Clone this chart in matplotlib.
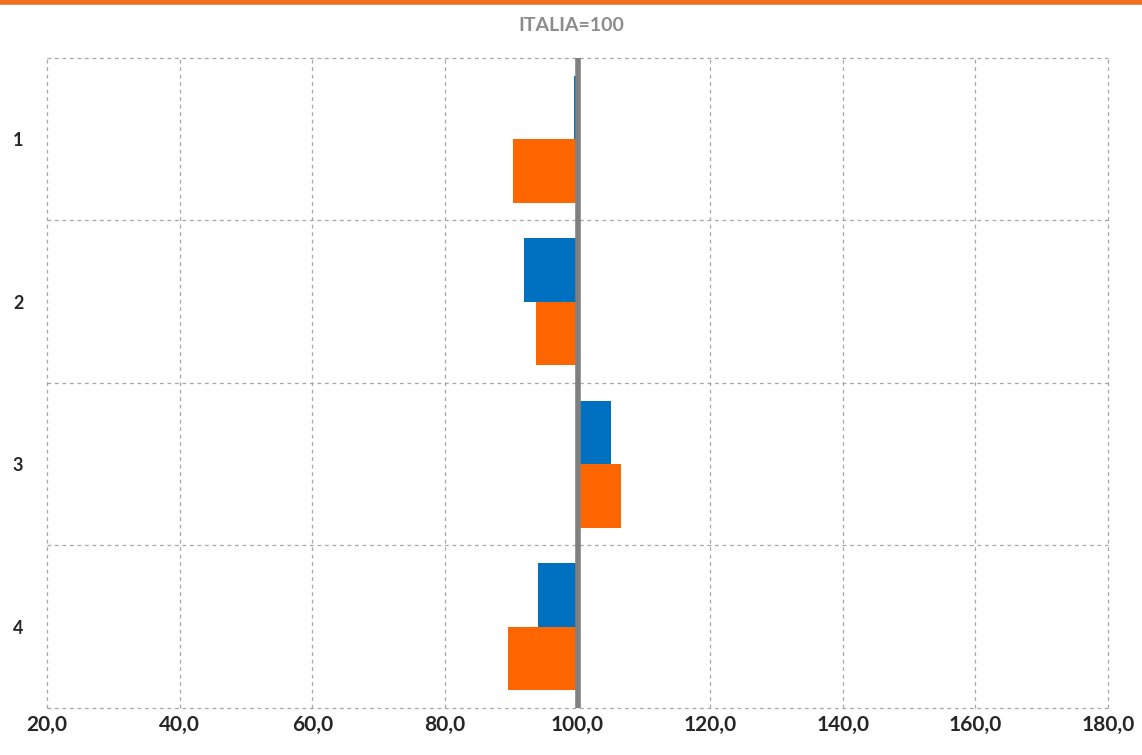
import matplotlib.pyplot as plt
import numpy as np

# values relative to Italy = 100
categories = ['1', '2', '3', '4']
blue_values = [99.5, 91.9, 105.1, 94.1]
orange_values = [90.2, 93.8, 106.6, 89.5]
x_ticks = [20, 40, 60, 80, 100, 120, 140, 160, 180]

BASE = 100
BLUE = '#0070C0'
ORANGE = '#FF6600'

fig = plt.figure(figsize=(11.42, 7.55), dpi=100)
ax = fig.add_axes([0.0412, 0.0623, 0.929, 0.861])

pos = np.arange(len(categories))
h = 0.39
ax.barh(pos - h / 2, np.array(blue_values) - BASE, left=BASE, height=h, color=BLUE)
ax.barh(pos + h / 2, np.array(orange_values) - BASE, left=BASE, height=h, color=ORANGE)
ax.axvline(BASE, color='#7f7f7f', lw=4, zorder=5)

ax.set_xlim(20, 180)
ax.set_ylim(len(categories) - 0.5, -0.5)
ax.set_xticks(x_ticks)
ax.set_xticklabels([f'{v:.1f}'.replace('.', ',') for v in x_ticks])
ax.set_yticks(pos)
ax.set_yticklabels(categories)
ax.set_yticks(np.arange(-0.5, len(categories)), minor=True)

for s in ax.spines.values():
    s.set_visible(False)
ax.grid(axis='x', which='major', color='#a6a6a6', ls=(0, (3, 3)), lw=0.9)
ax.grid(axis='y', which='minor', color='#a6a6a6', ls=(0, (3, 3)), lw=0.9)
for gl in ax.get_xgridlines() + ax.yaxis.get_minorticklines() + [
        t.gridline for t in ax.yaxis.get_minor_ticks()]:
    gl.set_clip_on(False)
ax.set_axisbelow(True)
ax.tick_params(which='both', length=0)
ax.tick_params(axis='x', pad=5)
ax.tick_params(axis='y', pad=17)
for lab in ax.get_xticklabels():
    lab.set_fontweight('bold')
    lab.set_fontsize(15)
    lab.set_color('#262626')
    lab.set_family('Lato')
for lab in ax.get_yticklabels():
    lab.set_fontweight('bold')
    lab.set_fontsize(13)
    lab.set_color('#262626')
    lab.set_family('Lato')

fig.text(0.5, 0.966, 'ITALIA=100', ha='center', va='center', fontsize=14,
         fontweight='bold', color='#8c8c8c', family='Lato')
fig.add_artist(plt.Line2D([0, 1], [0.997, 0.997], color='#F07020', lw=4,
                          transform=fig.transFigure))

fig.savefig('out.png', dpi=100, facecolor='white')
